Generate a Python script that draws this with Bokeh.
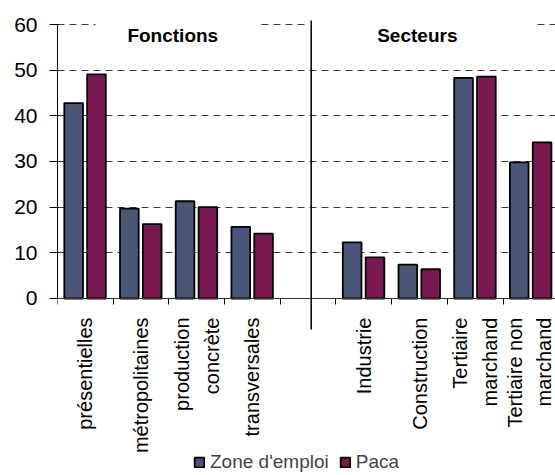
import math
from bokeh.plotting import figure
from bokeh.models import (Range1d, FixedTicker, Legend, LegendItem, Label,
                          BoxAnnotation, Arrow, ColumnDataSource)
from bokeh.embed import file_html
from bokeh.resources import INLINE

# ---- data ----
categories = ["présentielles", "métropolitaines", "production\nconcrète", "transversales", "",
              "Industrie", "Construction", "Tertiaire\nmarchand", "Tertiaire non\nmarchand"]
zone_emploi = [42.8, 19.7, 21.3, 15.7, None, 12.3, 7.4, 48.3, 29.8]
paca = [49.1, 16.3, 20.0, 14.2, None, 9.0, 6.4, 48.6, 34.2]
y_ticks = [0, 10, 20, 30, 40, 50, 60]
group_titles = ["Fonctions", "Secteurs"]
series_names = ["Zone d'emploi", "Paca"]

BLUE = "#4B5577"
RED = "#7A1850"
FONT = "Liberation Sans"

idx = [i for i, v in enumerate(zone_emploi) if v is not None]
src_zone = ColumnDataSource(dict(x=[i + 0.29 for i in idx], top=[zone_emploi[i] for i in idx]))
src_paca = ColumnDataSource(dict(x=[i + 0.70 for i in idx], top=[paca[i] for i in idx]))

# frame spans from just above 60 down to the bottom of the canvas; the x axis
# is pinned at y=0 so that labels and legend sit below it inside the frame area
p = figure(width=555, height=475, output_backend="svg", toolbar_location=None,
           x_range=Range1d(0, 8.941), y_range=Range1d(-38.76, 60.876),
           min_border_left=57, min_border_right=0, min_border_top=20, min_border_bottom=0)
p.outline_line_color = None
p.background_fill_color = "white"
p.border_fill_color = "white"

r1 = p.vbar(x="x", top="top", bottom=0, width=0.335, source=src_zone, fill_color=BLUE,
            line_color="black", line_width=1.8)
r2 = p.vbar(x="x", top="top", bottom=0, width=0.335, source=src_paca, fill_color=RED,
            line_color="black", line_width=1.8)

# x axis: labels at centers, ticks at boundaries
xa = p.xaxis[0]
xa.fixed_location = 0
xa.ticker = FixedTicker(ticks=[i + 0.5 for i in range(len(categories))],
                        minor_ticks=list(range(len(categories) + 1)))
xa.major_label_overrides = {i + 0.5: c for i, c in enumerate(categories)}
xa.major_label_orientation = math.pi / 2
xa.major_tick_line_color = None
xa.major_tick_out = 0
xa.major_tick_in = 0
xa.minor_tick_out = 6
xa.minor_tick_in = 0
xa.minor_tick_line_color = "black"
xa.axis_line_color = "#333333"
xa.major_label_standoff = 13
xa.major_label_text_font = FONT
xa.major_label_text_font_size = "20px"
xa.major_label_text_color = "black"
xa.major_label_text_line_height = 1.35

ya = p.yaxis[0]
ya.ticker = FixedTicker(ticks=y_ticks)
ya.bounds = (0, 60)
ya.minor_tick_line_color = None
ya.major_tick_out = 8
ya.major_tick_in = 1
ya.major_tick_line_color = "black"
ya.axis_line_color = "black"
ya.major_label_standoff = 12
ya.major_label_text_font = FONT
ya.major_label_text_font_size = "21px"
ya.major_label_text_color = "black"

p.xgrid.visible = False
p.ygrid.ticker = FixedTicker(ticks=y_ticks)
p.ygrid.grid_line_color = "#3a3a3a"
p.ygrid.grid_line_dash = "7 5"
p.ygrid.grid_line_width = 1

# group title boxes
p.add_layout(BoxAnnotation(left=0.68, right=3.6, bottom=54, top=61, fill_color="white",
                           fill_alpha=1, line_color=None))
p.add_layout(BoxAnnotation(left=4.45, right=8.54, bottom=54, top=61, fill_color="white",
                           fill_alpha=1, line_color=None))
p.add_layout(Label(x=2.07, y=57.6, text=group_titles[0], text_align="center",
                   text_baseline="middle", text_font=FONT, text_font_style="bold",
                   text_font_size="19px", text_color="black"))
p.add_layout(Label(x=6.46, y=57.6, text=group_titles[1], text_align="center",
                   text_baseline="middle", text_font=FONT, text_font_style="bold",
                   text_font_size="19px", text_color="black"))

# divider between the two groups
p.add_layout(Arrow(end=None, x_start=4.555, y_start=61, x_end=4.555, y_end=-6.8,
                   line_color="black", line_width=1.5))

legend = Legend(items=[LegendItem(label=series_names[0], renderers=[r1]),
                       LegendItem(label=series_names[1], renderers=[r2])],
                orientation="horizontal", location=(136, 2),
                border_line_color=None, background_fill_alpha=0,
                label_text_font=FONT, label_text_font_size="19px",
                glyph_width=12, glyph_height=12, label_standoff=5,
                spacing=10, padding=0, margin=0)
p.add_layout(legend)

open("out.html", "w").write(file_html(p, INLINE))
